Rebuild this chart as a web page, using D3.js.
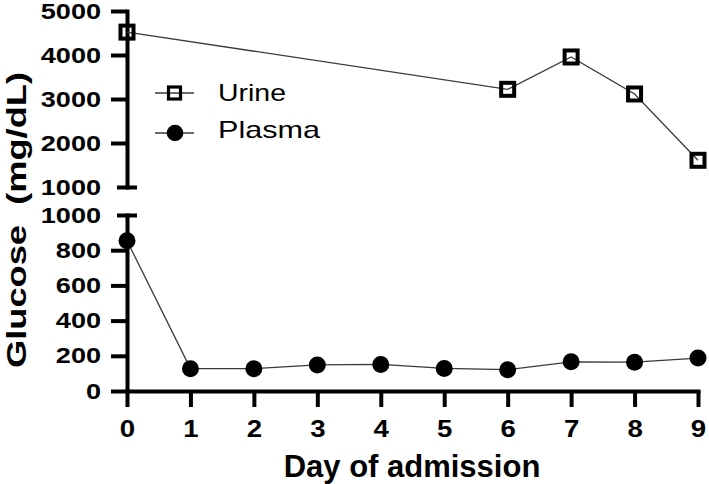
<!DOCTYPE html>
<html><head><meta charset="utf-8">
<script src="https://cdn.jsdelivr.net/npm/d3@7"></script>
<style>body{margin:0;background:#fff}</style>
</head><body>
<svg id="chart" width="709" height="484"></svg>
<script>
const days = [0,1,2,3,4,5,6,7,8,9];
const urineDays = [0,6,7,8,9];
const urineValues = [4520,3220,3955,3114,1607];
const plasmaDays = [0,1,2,3,4,5,6,7,8,9];
const plasmaValues = [854,127,127,148,151,128,121,166,164,187];
const topTicks = [1000,2000,3000,4000,5000];
const bottomTicks = [0,200,400,600,800,1000];
const xLabel = "Day of admission";
const yLabel = "Glucose  (mg/dL)";
const seriesNames = ["Urine","Plasma"];

const svg = d3.select("#chart");
const font = "'Liberation Sans', Arial, sans-serif";
const x = d3.scaleLinear().domain([0,9]).range([127,698]);
const yTop = d3.scaleLinear().domain([1000,5000]).range([187,11]);
const yBot = d3.scaleLinear().domain([0,1000]).range([391,215]);

function styleAxis(g, sx){
  g.select("path.domain").attr("stroke","#000").attr("stroke-width",4).attr("stroke-linecap","square");
  g.selectAll(".tick line").attr("stroke","#000").attr("stroke-width",4);
  g.selectAll(".tick text").attr("font-family",font).attr("font-weight","bold")
    .attr("font-size",22).attr("fill","#000")
    .each(function(){
      const t = d3.select(this);
      const xx = +t.attr("x") || 0;
      t.attr("x",0).attr("transform",`translate(${xx},0) scale(${sx},1)`);
    });
}

// top y axis
const gTop = svg.append("g").attr("transform","translate(127,0)")
  .call(d3.axisLeft(yTop).tickValues(topTicks).tickSize(16).tickSizeOuter(0).tickPadding(10).tickFormat(d3.format("d")));
styleAxis(gTop, 1.23);
gTop.selectAll(".tick").filter(d => d === 1000).select("line").attr("x1",-10).attr("x2",10);

// bottom y axis
const gBot = svg.append("g").attr("transform","translate(127,0)")
  .call(d3.axisLeft(yBot).tickValues(bottomTicks).tickSize(16).tickSizeOuter(0).tickPadding(10).tickFormat(d3.format("d")));
styleAxis(gBot, 1.23);
gBot.selectAll(".tick").filter(d => d === 1000).select("line").attr("x1",-10).attr("x2",10);

// x axis
const gX = svg.append("g").attr("transform","translate(0,391)")
  .call(d3.axisBottom(x).tickValues(days).tickSize(16).tickSizeOuter(0).tickPadding(14).tickFormat(d3.format("d")));
styleAxis(gX, 1.2);
gX.selectAll(".tick text").attr("font-size",23);

// lines
const lineU = d3.line().x((d,i)=>x(urineDays[i])).y(d=>yTop(d));
const lineP = d3.line().x((d,i)=>x(plasmaDays[i])).y(d=>yBot(d));
svg.append("path").attr("d",lineU(urineValues)).attr("fill","none").attr("stroke","#3a3a3a").attr("stroke-width",1.3);
svg.append("path").attr("d",lineP(plasmaValues)).attr("fill","none").attr("stroke","#3a3a3a").attr("stroke-width",1.3);

// markers
const sq = 13;
svg.selectAll("rect.u").data(urineValues).enter().append("rect").attr("class","u")
  .attr("x",(d,i)=>x(urineDays[i])-sq/2).attr("y",d=>yTop(d)-sq/2)
  .attr("width",sq).attr("height",sq).attr("fill","none").attr("stroke","#000").attr("stroke-width",4);
svg.selectAll("circle.p").data(plasmaValues).enter().append("circle").attr("class","p")
  .attr("cx",(d,i)=>x(plasmaDays[i])).attr("cy",d=>yBot(d)).attr("r",8.5).attr("fill","#000");

// legend
const lg = svg.append("g");
lg.append("line").attr("x1",155).attr("x2",194).attr("y1",93).attr("y2",93).attr("stroke","#3a3a3a").attr("stroke-width",1.3);
lg.append("rect").attr("x",174.5-6).attr("y",93-6).attr("width",12).attr("height",12).attr("fill","none").attr("stroke","#000").attr("stroke-width",3.2);
lg.append("line").attr("x1",155).attr("x2",194).attr("y1",133).attr("y2",133).attr("stroke","#3a3a3a").attr("stroke-width",1.3);
lg.append("circle").attr("cx",175).attr("cy",133).attr("r",8.3).attr("fill","#000");
lg.append("text").attr("x",218).attr("y",101).text(seriesNames[0])
  .attr("font-family",font).attr("font-size",24).attr("textLength",68).attr("lengthAdjust","spacingAndGlyphs");
lg.append("text").attr("x",218).attr("y",138).text(seriesNames[1])
  .attr("font-family",font).attr("font-size",24).attr("textLength",102).attr("lengthAdjust","spacingAndGlyphs");

// titles
svg.append("text").attr("x",412).attr("y",477).attr("text-anchor","middle")
  .attr("font-family",font).attr("font-weight","bold").attr("font-size",31).text(xLabel);
svg.append("text").attr("transform","translate(25.5,220) rotate(-90)").attr("text-anchor","middle")
  .attr("font-family",font).attr("font-weight","bold").attr("font-size",27.5)
  .attr("textLength",296).attr("lengthAdjust","spacingAndGlyphs")
  .style("white-space","pre").text(yLabel);
</script>
</body></html>
